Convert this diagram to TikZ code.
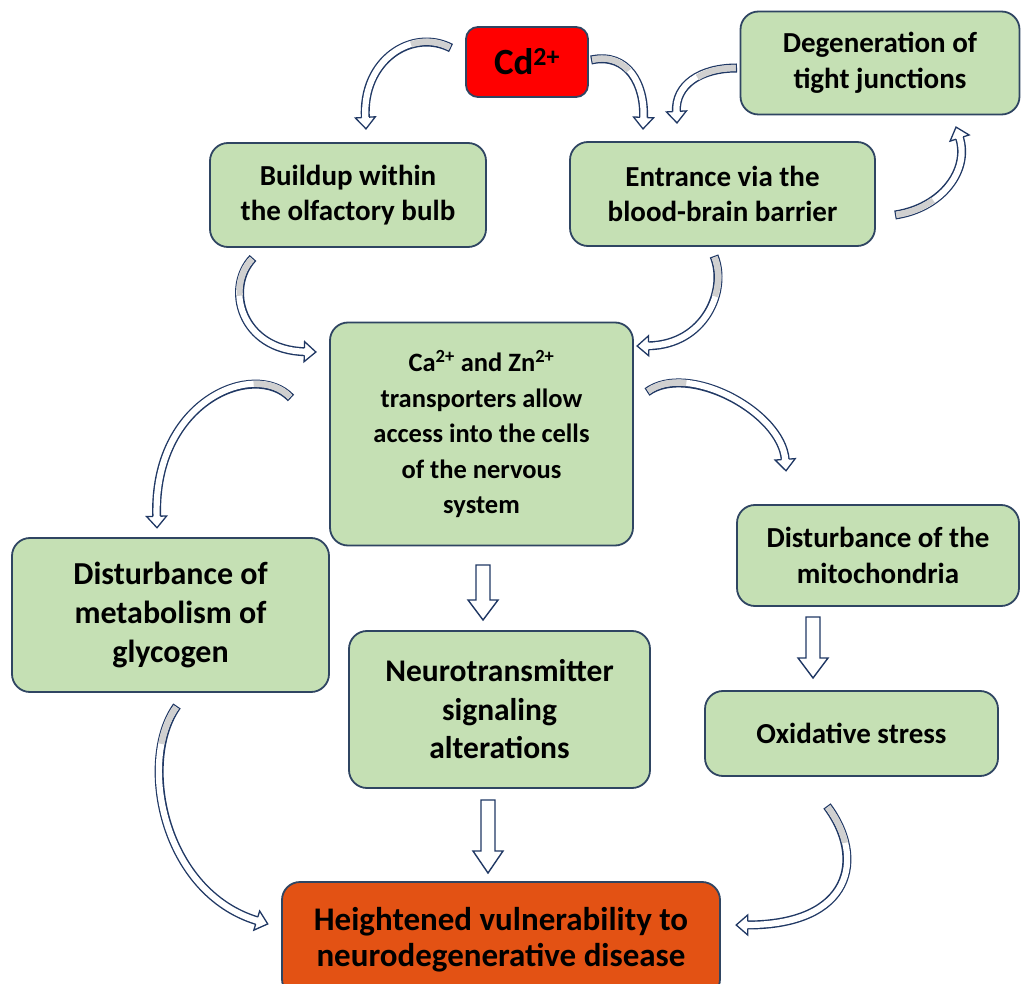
\documentclass[tikz,border=0pt]{standalone}
\usepackage{fontspec}
\setmainfont{Carlito}
\usetikzlibrary{decorations.markings,calc}
\definecolor{gfill}{HTML}{C5E0B4}
\definecolor{bcol}{HTML}{2F4562}
\definecolor{nav}{HTML}{203864}
\definecolor{cdred}{HTML}{FF0000}
\definecolor{orng}{HTML}{E35214}
\definecolor{tailg}{HTML}{D0D0D0}
\tikzset{
  box/.style={rounded corners=18pt, draw=bcol, line width=1.8pt, fill=gfill, align=center,
    inner sep=0pt, text=black, font=\bfseries\fontsize{29}{35.5}\selectfont},
  bigtext/.style={font=\bfseries\fontsize{32}{39}\selectfont},
  ribout/.style={line width=9pt, draw=nav, shorten >=11pt},
  ribin/.style={line width=6.2pt, draw=white, shorten >=11pt, shorten <=1.3pt},
  ribtail/.style={line width=6.2pt, draw=tailg, shorten <=1.3pt, dash pattern=on 40pt off 3000pt},
  ribhead/.style={postaction={decorate}, decoration={markings, mark=at position 0.999 with {
      \draw[nav, line width=1.3pt, fill=white, line join=miter]
        (-11.5pt,3.75pt) -- (-11.5pt,10pt) -- (0pt,0pt) -- (-11.5pt,-10pt) -- (-11.5pt,-3.75pt);}}},
  blk/.style={draw=nav, line width=1.4pt, fill=white, line join=miter}
}
\newcommand\rib[4]{%
  \draw[ribout] (#1) .. controls (#2) and (#3) .. (#4);
  \draw[ribin] (#1) .. controls (#2) and (#3) .. (#4);
  \draw[ribtail] (#1) .. controls (#2) and (#3) .. (#4);
  \path[ribhead] (#1) .. controls (#2) and (#3) .. (#4);
}
\newcommand\blockarrow[3]{% start, tip, head length
  \draw[blk] ($(#1)+(-7,0)$) -- ($(#2)+(-7,-#3)$) -- ($(#2)+(-15,-#3)$) -- (#2)
    -- ($(#2)+(15,-#3)$) -- ($(#2)+(7,-#3)$) -- ($(#1)+(7,0)$) -- cycle;
}
\begin{document}
\begin{tikzpicture}[x=1pt,y=-1pt]
\clip (0,0) rectangle (1021,984);
\fill[white] (0,0) rectangle (1021,984);

% boxes
\node[box, fill=cdred, rounded corners=12pt, minimum width=122pt, minimum height=70pt,
  font=\bfseries\fontsize{37}{40}\selectfont] (cd) at (527,62) {Cd\textsuperscript{2+}};
\node[box, minimum width=279pt, minimum height=103pt] (deg) at (880,63) {Degeneration of\\tight junctions};
\node[box, minimum width=276pt, minimum height=104pt] (build) at (348,195) {Buildup within\\the olfactory bulb};
\node[box, minimum width=305pt, minimum height=104pt] (ent) at (722.5,194) {Entrance via the\\blood-brain barrier};
\node[box, minimum width=303pt, minimum height=223pt, font=\bfseries\fontsize{26.5}{35.5}\selectfont] (ca) at (481.5,434)
  {Ca\textsuperscript{2+} and Zn\textsuperscript{2+}\\transporters allow\\access into the cells\\of the nervous\\system};
\node[box, bigtext, minimum width=317pt, minimum height=154pt] (gly) at (170.5,615) {Disturbance of\\metabolism of\\glycogen};
\node[box, minimum width=282pt, minimum height=101pt] (mito) at (878,555.5) {Disturbance of the\\mitochondria};
\node[box, bigtext, minimum width=301pt, minimum height=157pt, font=\bfseries\fontsize{31.5}{38.5}\selectfont] (neuro) at (499.5,709.5) {Neurotransmitter\\signaling\\alterations};
\node[box, minimum width=293pt, minimum height=85pt] (ox) at (851.5,733.5) {Oxidative stress};
\node[box, fill=orng, minimum width=438pt, minimum height=115pt, font=\bfseries\fontsize{33}{36}\selectfont] (heig) at (501,939.5)
  {Heightened vulnerability to\\neurodegenerative disease};

% curved ribbon arrows
\coordinate (c1s) at (451,48);  \coordinate (c1e) at (366,129);
\coordinate (c2s) at (591,60);  \coordinate (c2e) at (643,129);
\coordinate (c3s) at (737,68);  \coordinate (c3e) at (677,123);
\coordinate (c4s) at (895,215); \coordinate (c4e) at (956,127);
\coordinate (c5s) at (253,258); \coordinate (c5e) at (316,352);
\coordinate (c6s) at (714,256); \coordinate (c6e) at (637,346);
\coordinate (c7s) at (291,398); \coordinate (c7e) at (157,528);
\coordinate (c8s) at (647,392); \coordinate (c8e) at (786,471);
\coordinate (c9s) at (177,706); \coordinate (c9e) at (268,924);
\coordinate (c10s) at (827,806); \coordinate (c10e) at (736,925);

\rib{c1s}{412,28}{362,60}{c1e}
\rib{c2s}{628,52}{645,85}{c2e}
\rib{c3s}{700,68}{675,85}{c3e}
\rib{c4s}{942,208}{970,170}{c4e}
\rib{c5s}{225,287}{240,350}{c5e}
\rib{c6s}{728,290}{705,345}{c6e}
\rib{c7s}{255,360}{153,400}{c7e}
\rib{c8s}{688,362}{782,412}{c8e}
\rib{c9s}{138,760}{162,892}{c9e}
\rib{c10s}{866,858}{852,925}{c10e}

% straight block arrows
\coordinate (s1) at (483,565); \coordinate (t1) at (483,620);
\coordinate (s2) at (813,617); \coordinate (t2) at (813,678);
\coordinate (s3) at (488,800); \coordinate (t3) at (488,873);
\blockarrow{s1}{t1}{20}
\blockarrow{s2}{t2}{20}
\blockarrow{s3}{t3}{22}
\end{tikzpicture}
\end{document}
